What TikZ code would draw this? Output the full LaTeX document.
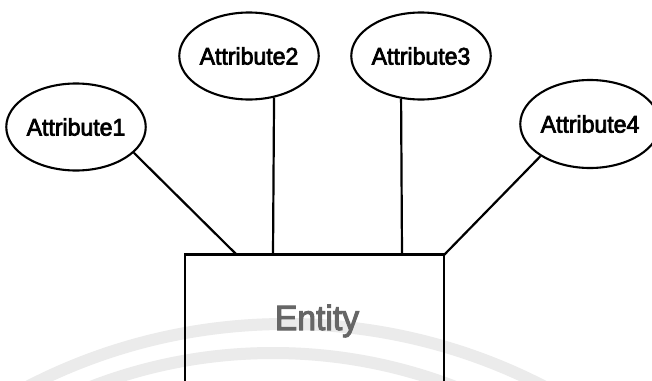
\documentclass[tikz,border=0pt]{standalone}
\usepackage{fontspec}
\setmainfont{Liberation Sans}
\newfontfamily\heavyfont[FakeBold=3,FakeStretch=0.96]{Liberation Sans}
\usetikzlibrary{shapes.geometric}

\tikzset{
  attr/.style={draw=black, line width=2.1pt, ellipse, inner sep=0pt,
               minimum width=132pt, minimum height=87pt,
               font=\heavyfont\fontsize{24}{28}\selectfont},
  link/.style={draw=black, line width=2.2pt},
  entitybox/.style={draw=black, line width=1.4pt, rectangle, inner sep=0pt,
                    minimum width=259pt, minimum height=200pt},
  entitytext/.style={text=black!60, inner sep=0pt, anchor=base,
                     font=\heavyfont\fontsize{35}{40}\selectfont},
  mark band/.style={draw=black!8, line width=12pt}
}

\begin{document}
\begin{tikzpicture}[x=1pt, y=-1pt]
  \path[use as bounding box, fill=white] (0,0) rectangle (652,380);

  % faint background bands
  \begin{scope}
    \clip (0,0) rectangle (652,380);
    \draw[mark band] (286,887) circle (563pt);
    \draw[mark band] (273,858) circle (505pt);
  \end{scope}

  % entity box (runs past the lower edge)
  \begin{scope}
    \clip (0,0) rectangle (652,380);
    \node[entitybox] (entity) at (314.5,355) {};
  \end{scope}
  \draw[line width=2.3pt] (entity.north west) -- (entity.north east);
  \node[entitytext] (entitylabel) at (317,330) {Entity};

  % attributes
  \node[attr] (a1) at (76,127) {Attribute1};
  \node[attr] (a2) at (249,56) {Attribute2};
  \node[attr] (a3) at (421,56) {Attribute3};
  \node[attr, minimum width=122pt, minimum height=88pt] (a4) at (590,124) {Attribute4};

  % attachment points on the top edge of the box
  \coordinate (e1) at (237,255);
  \coordinate (e2) at (273,255);
  \coordinate (e3) at (402,255);
  \coordinate (e4) at (444,255);

  \draw[link] (a1.-24) -- (e1);
  \draw[link] (a2.-59) -- (e2);
  \draw[link] (a3.-115) -- (e3);
  \draw[link] (a4.-147) -- (e4);
\end{tikzpicture}
\end{document}
